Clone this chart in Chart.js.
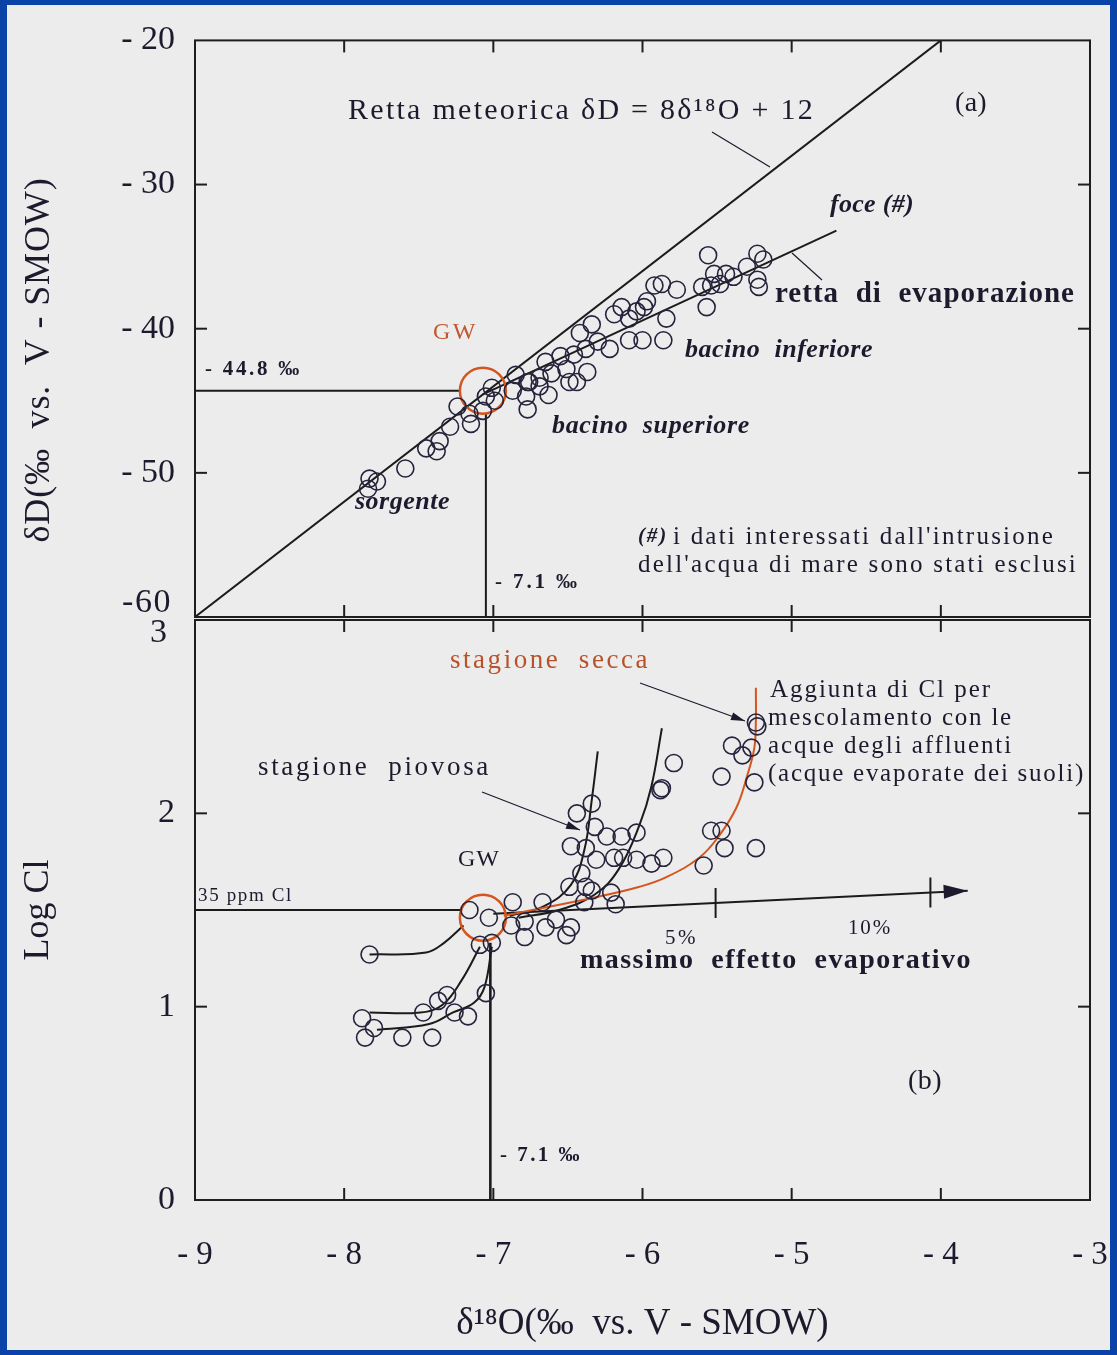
<!DOCTYPE html>
<html><head><meta charset="utf-8">
<script src="https://cdn.jsdelivr.net/npm/chart.js@4.4.1/dist/chart.umd.min.js"></script>
<style>
html,body{margin:0;padding:0;background:#0a43a8;width:1117px;height:1355px;overflow:hidden}
#panel{position:absolute;left:7px;top:5px;width:1103px;height:1345px;background:#ececec}
canvas{position:absolute;left:0;top:0}
</style></head><body>
<div id="panel"></div>
<canvas id="cA" width="1117" height="1355"></canvas>
<canvas id="cB" width="1117" height="1355"></canvas>
<script>
// ---------------- DATA ----------------
const xTickValues = [-9, -8, -7, -6, -5, -4, -3];
const xTickLabels = ['- 9', '- 8', '- 7', '- 6', '- 5', '- 4', '- 3'];
const dDTickValues = [-60, -50, -40, -30, -20];
const dDTickLabels = ['-60', '- 50', '- 40', '- 30', '- 20'];
const logClTickValues = [0, 1, 2, 3];
const logClTickLabels = ['0', '1', '2', '3'];

// (a) delta18O vs deltaD samples
const isoO18 = [-7.83,-7.78,-7.84,-7.59,-7.45,-7.38,-7.36,-7.29,-7.24,-7.16,-7.15,-7.07,-7.01,-6.99,-7.05,
  -6.87,-6.85,-6.77,-6.78,-6.77,-6.69,-6.63,-6.61,-6.49,-6.76,-6.69,-6.65,-6.55,-6.51,-6.46,-6.44,-6.37,
  -6.42,-6.38,-6.34,-6.30,-6.22,-6.19,-6.14,-6.09,-6.09,-6.04,-6.00,-5.99,-5.97,-5.92,-5.87,-5.86,-5.84,
  -5.77,-5.60,-5.57,-5.56,-5.54,-5.52,-5.48,-5.44,-5.39,-5.30,-5.23,-5.19,-5.23,-5.22];
const isoD = [-50.4,-50.6,-51.1,-49.7,-48.3,-48.5,-47.8,-46.8,-45.4,-45.9,-46.6,-45.7,-44.1,-45.0,-44.7,
  -44.3,-43.2,-43.7,-44.7,-45.6,-44.0,-44.6,-43.1,-43.7,-43.7,-43.4,-42.3,-41.9,-42.8,-41.8,-43.7,-43.0,
  -40.3,-41.4,-39.7,-40.9,-41.4,-39.0,-38.5,-39.3,-40.8,-38.8,-40.8,-38.5,-38.1,-37.0,-36.9,-40.8,-39.3,
  -37.3,-37.1,-38.5,-34.9,-37.0,-36.2,-36.9,-36.2,-36.4,-35.7,-34.8,-35.2,-36.6,-37.1];
const meteoricO18 = [-9, -4];
const meteoricD = [-60, -20];
const evapO18 = [-7.07, -4.70];
const evapD = [-44.56, -33.2];
const gwO18 = -7.07, gwD = -44.3;
const gwRefD = [-44.3, -44.3], gwRefDO18 = [-9, -7.22];
const gwRefO18a = [-7.05, -7.05], gwRefO18aD = [-60, -45.9];

// (b) delta18O vs Log Cl samples
const clO18 = [-6.34,-6.44,-6.32,-6.24,-6.14,-6.04,-6.48,-6.38,-6.31,-6.19,-6.13,-6.04,-6.41,-6.49,-6.38,
  -6.34,-6.21,-6.18,-6.39,-6.67,-6.87,-7.16,-5.24,-5.23,-5.40,-5.33,-5.27,-5.47,-5.25,-5.79,-5.88,-5.87,
  -5.54,-5.47,-5.45,-5.24,-5.59,-5.94,-5.86,-7.03,-6.88,-6.79,-6.79,-6.65,-6.58,-6.48,-6.51,-7.09,-7.01,
  -7.83,-7.05,-7.31,-7.37,-7.47,-7.26,-7.17,-7.88,-7.80,-7.86,-7.61,-7.41];
const logCl = [2.05,2.00,1.93,1.88,1.88,1.90,1.83,1.82,1.76,1.77,1.77,1.76,1.69,1.62,1.62,
  1.60,1.59,1.53,1.54,1.54,1.54,1.50,2.47,2.45,2.35,2.30,2.34,2.19,2.16,2.26,2.12,2.13,
  1.91,1.91,1.82,1.82,1.73,1.74,1.77,1.46,1.42,1.44,1.36,1.41,1.45,1.41,1.37,1.32,1.33,
  1.27,1.07,1.06,1.03,0.97,0.97,0.95,0.94,0.89,0.84,0.84,0.84];
const gwClO18 = -7.07, gwLogCl = 1.46;
const cl35O18 = [-9, -7.22], cl35Log = [1.5, 1.5];
const gwRefO18b = [-7.02, -7.02], gwRefO18bLog = [0, 1.33];
const mixAO18 = [-7.83, -7.45, -7.33, -7.20], mixALog = [1.27, 1.28, 1.33, 1.42];
const mixBO18 = [-7.83, -7.49, -7.34, -7.21, -7.09], mixBLog = [0.97, 0.97, 1.01, 1.14, 1.31];
const mixCO18 = [-7.78, -7.43, -7.27, -7.13, -7.06, -7.01], mixCLog = [0.88, 0.91, 0.97, 1.02, 1.10, 1.31];
const rain1O18 = [-6.30, -6.34, -6.39, -6.48, -6.66, -6.89], rain1Log = [2.32, 2.07, 1.81, 1.63, 1.52, 1.47];
const rain2O18 = [-5.87, -5.94, -6.02, -6.16, -6.32, -6.56, -6.83], rain2Log = [2.44, 2.14, 1.94, 1.71, 1.58, 1.50, 1.46];
const dryO18 = [-6.93, -6.29, -6.02, -5.84, -5.62, -5.49, -5.37, -5.30, -5.25, -5.24, -5.24];
const dryLog = [1.47, 1.57, 1.62, 1.67, 1.77, 1.88, 2.03, 2.19, 2.34, 2.48, 2.65];
const evapArrowO18 = [-7.0, -3.82], evapArrowLog = [1.48, 1.60];
const evapPctO18 = [-5.51, -4.07];

// ---------------- STYLE / HELPERS ----------------
const SERIF = '"Liberation Serif","DejaVu Serif",serif';
const INK = '#1c1a2c';
const ORANGE = '#d4561e';
const pts = (xs, ys) => xs.map((x, i) => ({x, y: ys[i]}));
const lbl = (vals, labs) => v => { const i = vals.indexOf(v); return i >= 0 ? labs[i] : ''; };

function fitText(ctx, t) {
  ctx.save();
  ctx.font = t.font + ' ' + SERIF;
  ctx.fillStyle = t.color || INK;
  ctx.textBaseline = 'middle';
  ctx.textAlign = 'left';
  ctx.letterSpacing = '0px';
  const n = [...t.t].length;
  const w0 = ctx.measureText(t.t).width;
  let ls = t.w ? (t.w - w0) / n : 0, sx = 1;
  if (ls < -0.5) { ls = -0.5; sx = t.w / (w0 + n * ls); }
  ctx.letterSpacing = ls + 'px';
  ctx.translate(t.x, t.y);
  if (t.rot) {
    ctx.rotate(-Math.PI / 2);
    ctx.scale(sx, 1);
    ctx.fillText(t.t, -t.w / 2 / sx, 0);
  } else {
    ctx.scale(sx, 1);
    ctx.fillText(t.t, 0, 0);
  }
  ctx.restore();
}
function seg(ctx, a, b, w, c) {
  ctx.save(); ctx.strokeStyle = c || INK; ctx.lineWidth = w || 1.2;
  ctx.beginPath(); ctx.moveTo(a[0], a[1]); ctx.lineTo(b[0], b[1]); ctx.stroke(); ctx.restore();
}
function arrowHead(ctx, a, b, len, wid) {
  const ang = Math.atan2(b[1] - a[1], b[0] - a[0]);
  ctx.save(); ctx.fillStyle = INK; ctx.translate(b[0], b[1]); ctx.rotate(ang);
  ctx.beginPath(); ctx.moveTo(0, 0); ctx.lineTo(-len, -wid / 2); ctx.lineTo(-len, wid / 2); ctx.closePath(); ctx.fill();
  ctx.restore();
}

const decoPlugin = {
  id: 'deco',
  afterDatasetsDraw(chart, args, o) {
    const ctx = chart.ctx, ca = chart.chartArea, xs = chart.scales.x, ys = chart.scales.y;
    ctx.save();
    ctx.strokeStyle = '#1e1e1e'; ctx.lineWidth = 2;
    ctx.strokeRect(ca.left, ca.top, ca.right - ca.left, ca.bottom - ca.top);
    const L = 12;
    o.tx.forEach(v => { const p = xs.getPixelForValue(v);
      seg(ctx, [p, ca.top], [p, ca.top + L], 2, '#1e1e1e');
      seg(ctx, [p, ca.bottom], [p, ca.bottom - L], 2, '#1e1e1e'); });
    o.ty.forEach(v => { const p = ys.getPixelForValue(v);
      seg(ctx, [ca.left, p], [ca.left + L, p], 2, '#1e1e1e');
      seg(ctx, [ca.right, p], [ca.right - L, p], 2, '#1e1e1e'); });
    (o.leaders || []).forEach(l => { seg(ctx, l.a, l.b, 1.2); if (l.arrow) arrowHead(ctx, l.a, l.b, 14, 8); });
    if (o.extra) o.extra(chart, ctx);
    (o.texts || []).forEach(t => fitText(ctx, t));
    ctx.restore();
  }
};

function lineDs(xs, ys, color, width, tension) {
  return {data: pts(xs, ys), showLine: true, pointRadius: 0, borderColor: color || '#1b1b1b',
    borderWidth: width || 2, tension: tension || 0, fill: false, backgroundColor: 'transparent'};
}
const circleDs = (xs, ys) => ({data: pts(xs, ys), pointRadius: 8.5, pointBorderWidth: 1.6,
  pointBorderColor: '#26243c', pointBackgroundColor: 'rgba(0,0,0,0)', showLine: false});

const tickFont = {family: SERIF, size: 34};
const noPad = s => { s.paddingLeft = 0; s.paddingRight = 0; };

// ---------------- CHART (a) ----------------
new Chart(document.getElementById('cA'), {
  type: 'scatter',
  data: {datasets: [
    circleDs(isoO18, isoD),
    {data: [{x: gwO18, y: gwD}], pointRadius: 23, pointBorderWidth: 2.5, pointBorderColor: ORANGE,
      pointBackgroundColor: 'rgba(0,0,0,0)'},
    lineDs(meteoricO18, meteoricD, '#1b1b1b', 2),
    lineDs(evapO18, evapD, '#1b1b1b', 2),
    lineDs(gwRefDO18, gwRefD, '#1b1b1b', 2),
    lineDs(gwRefO18a, gwRefO18aD, '#1b1b1b', 2)
  ]},
  options: {
    responsive: false, animation: false, events: [],
    layout: {padding: {left: 0, right: 27, top: 37, bottom: 738}},
    plugins: {legend: {display: false}, tooltip: {enabled: false},
      deco: {
        tx: [-8, -7, -6, -5, -4], ty: [-30, -40, -50],
        leaders: [{a: [712, 132], b: [770, 167]}, {a: [792, 253], b: [822, 280]}],
        texts: [
          {t: 'Retta meteorica δD = 8δ¹⁸O + 12', x: 348, y: 111, w: 467, font: '30px'},
          {t: '(a)', x: 955, y: 104, w: 32, font: '28px'},
          {t: 'foce (#)', x: 830, y: 205, w: 84, font: 'italic bold 26px'},
          {t: 'retta  di  evaporazione', x: 775, y: 295, w: 300, font: 'bold 29px'},
          {t: 'bacino  inferiore', x: 685, y: 350, w: 188, font: 'italic bold 26px'},
          {t: 'bacino  superiore', x: 552, y: 426, w: 198, font: 'italic bold 26px'},
          {t: 'sorgente', x: 355, y: 502, w: 95, font: 'italic bold 26px'},
          {t: 'GW', x: 433, y: 333, w: 45, font: '24px', color: '#c0582e'},
          {t: '- 44.8 ‰', x: 205, y: 370, w: 97, font: 'bold 21px'},
          {t: '- 7.1 ‰', x: 495, y: 583, w: 85, font: 'bold 21px'},
          {t: '(#)', x: 638, y: 537, w: 30, font: 'italic bold 21px'},
          {t: "i dati interessati dall'intrusione", x: 673, y: 537, w: 382, font: '25px'},
          {t: "dell'acqua di mare sono stati esclusi", x: 638, y: 565, w: 440, font: '25px'},
          {t: 'δD(‰  vs.  V - SMOW)', x: 40, y: 360, w: 365, font: '36px', rot: true},
          {t: '-60', x: 122, y: 603, w: 50, font: '34px'}
        ]
      }},
    scales: {
      x: {type: 'linear', min: -9, max: -3, display: false},
      y: {type: 'linear', min: -60, max: -20,
        afterFit(s) { s.width = 195; },
        grid: {display: false, drawTicks: false}, border: {display: false},
        ticks: {stepSize: 10, padding: 20, font: tickFont, color: INK,
          callback: v => v === -60 ? '' : lbl(dDTickValues, dDTickLabels)(v)}}
    }
  },
  plugins: [decoPlugin]
});

// ---------------- CHART (b) ----------------
new Chart(document.getElementById('cB'), {
  type: 'scatter',
  data: {datasets: [
    circleDs(clO18, logCl),
    {data: [{x: gwClO18, y: gwLogCl}], pointRadius: 23, pointBorderWidth: 2.5, pointBorderColor: ORANGE,
      pointBackgroundColor: 'rgba(0,0,0,0)'},
    lineDs(dryO18, dryLog, ORANGE, 2, 0.4),
    lineDs(cl35O18, cl35Log, '#1b1b1b', 2),
    lineDs(gwRefO18b, gwRefO18bLog, '#1b1b1b', 2.6),
    lineDs(mixAO18, mixALog, '#1b1b1b', 2, 0.4),
    lineDs(mixBO18, mixBLog, '#1b1b1b', 2, 0.4),
    lineDs(mixCO18, mixCLog, '#1b1b1b', 2, 0.4),
    lineDs(rain1O18, rain1Log, '#1b1b1b', 2, 0.4),
    lineDs(rain2O18, rain2Log, '#1b1b1b', 2, 0.4),
    lineDs(evapArrowO18, evapArrowLog, '#1b1b1b', 2)
  ]},
  options: {
    responsive: false, animation: false, events: [],
    layout: {padding: {left: 0, right: 27, top: 620, bottom: 0}},
    plugins: {legend: {display: false}, tooltip: {enabled: false},
      deco: {
        tx: [-8, -7, -6, -5, -4], ty: [1, 2],
        leaders: [{a: [640, 683], b: [745, 721], arrow: true}, {a: [482, 792], b: [580, 830], arrow: true}],
        extra(chart, ctx) {
          const xs = chart.scales.x, ys = chart.scales.y;
          const a = [xs.getPixelForValue(evapArrowO18[0]), ys.getPixelForValue(evapArrowLog[0])];
          const b = [xs.getPixelForValue(evapArrowO18[1]), ys.getPixelForValue(evapArrowLog[1])];
          arrowHead(ctx, a, b, 24, 14);
          evapPctO18.forEach(v => {
            const f = (v - evapArrowO18[0]) / (evapArrowO18[1] - evapArrowO18[0]);
            const yv = evapArrowLog[0] + f * (evapArrowLog[1] - evapArrowLog[0]);
            const px = xs.getPixelForValue(v), py = ys.getPixelForValue(yv);
            seg(ctx, [px, py - 15], [px, py + 15], 2, '#1b1b1b');
          });
        },
        texts: [
          {t: 'stagione  secca', x: 450, y: 661, w: 200, font: '27px', color: '#b8522a'},
          {t: 'Aggiunta di Cl per', x: 770, y: 690, w: 222, font: '25px'},
          {t: 'mescolamento con le', x: 768, y: 718, w: 245, font: '25px'},
          {t: 'acque degli affluenti', x: 768, y: 746, w: 245, font: '25px'},
          {t: '(acque evaporate dei suoli)', x: 768, y: 774, w: 317, font: '25px'},
          {t: 'stagione  piovosa', x: 258, y: 768, w: 233, font: '27px'},
          {t: 'GW', x: 458, y: 860, w: 42, font: '24px'},
          {t: '35 ppm Cl', x: 198, y: 896, w: 95, font: '19px'},
          {t: '5%', x: 665, y: 938, w: 33, font: '21px'},
          {t: '10%', x: 848, y: 928, w: 44, font: '21px'},
          {t: 'massimo  effetto  evaporativo', x: 580, y: 961, w: 392, font: 'bold 28px'},
          {t: '(b)', x: 908, y: 1082, w: 34, font: '28px'},
          {t: '- 7.1 ‰', x: 500, y: 1156, w: 82, font: 'bold 21px'},
          {t: '3', x: 150, y: 633, w: 20, font: '34px'}
        ]
      }},
    scales: {
      x: {type: 'linear', min: -9, max: -3,
        afterFit(s) { s.height = 155; noPad(s); },
        grid: {display: false, drawTicks: false}, border: {display: false},
        ticks: {stepSize: 1, padding: 36, font: {family: SERIF, size: 33}, color: INK, maxRotation: 0,
          callback: lbl(xTickValues, xTickLabels)},
        title: {display: true, text: 'δ¹⁸O(‰  vs. V - SMOW)', color: INK,
          font: {family: SERIF, size: 37}, padding: {top: 0, bottom: 9}}},
      y: {type: 'linear', min: 0, max: 3,
        afterFit(s) { s.width = 195; },
        grid: {display: false, drawTicks: false}, border: {display: false},
        ticks: {stepSize: 1, padding: 20, font: tickFont, color: INK,
          callback: v => v === 3 ? '' : lbl(logClTickValues, logClTickLabels)(v)},
        title: {display: true, text: 'Log Cl', color: INK,
          font: {family: SERIF, size: 36}, padding: {top: 17, bottom: 0}}}
    }
  },
  plugins: [decoPlugin]
});
</script>
</body></html>
